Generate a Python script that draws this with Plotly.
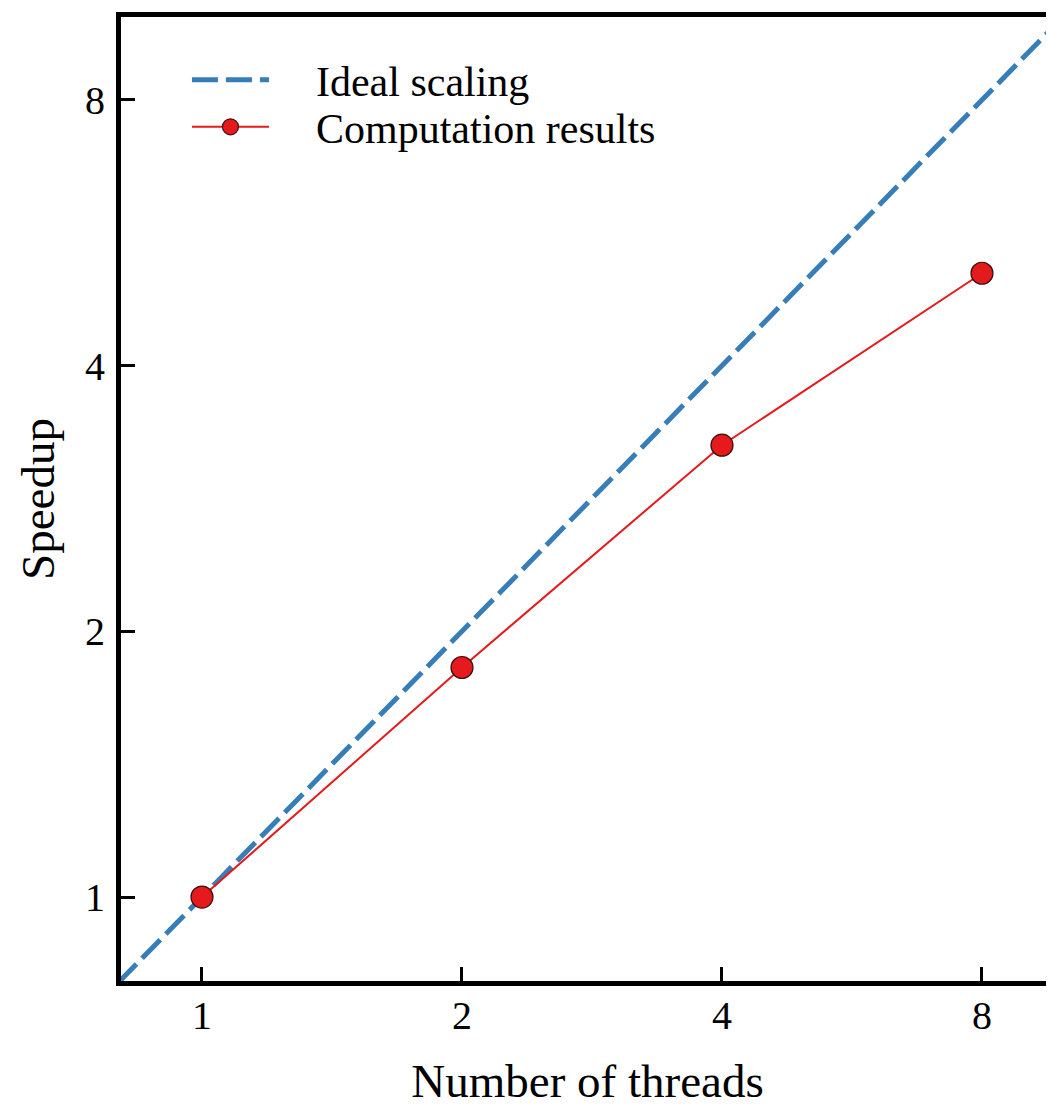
import math
import plotly.graph_objects as go

threads = [1, 2, 4, 8]
speedup = [1.0, 1.82, 3.25, 5.09]
ideal_x = [0.8, 10]
ideal_y = [0.8, 10]
tick_vals = [1, 2, 4, 8]
tick_text = ["1", "2", "4", "8"]

FONT = "Liberation Serif"
BLUE = "#377eb8"
RED = "#e41a1c"
PAD = "\u00a0" * 4

fig = go.Figure()
fig.add_trace(go.Scatter(
    x=ideal_x, y=ideal_y, mode="lines", name=PAD + "Ideal scaling",
    line=dict(color=BLUE, width=5, dash="26px,8px"), legend="legend",
))
fig.add_trace(go.Scatter(
    x=threads, y=speedup, mode="lines+markers", name=PAD + "Computation results",
    line=dict(color=RED, width=2),
    marker=dict(size=22, color=RED, line=dict(color="#3a1010", width=1.2)),
    legend="legend2",
))

L2 = math.log10(2)
xr = [L2 * -0.3115, L2 * 3.277]
yr = [L2 * -0.316, L2 * 3.312]

axis_common = dict(
    type="log", tickvals=tick_vals, ticktext=tick_text,
    showgrid=False, zeroline=False, showline=True, linecolor="black", linewidth=5,
    ticks="inside", ticklen=14, tickwidth=3, tickcolor="black",
    tickfont=dict(family=FONT, size=40, color="black"),
)

legend_common = dict(
    xanchor="left", yanchor="middle", bgcolor="rgba(0,0,0,0)",
    font=dict(family=FONT, size=42, color="black"), itemwidth=77,
)

fig.update_layout(
    width=1046, height=1099,
    margin=dict(l=113, r=0, t=9, b=126),
    paper_bgcolor="white", plot_bgcolor="white",
    font=dict(family=FONT, color="black"),
    showlegend=True,
    legend=dict(**legend_common, x=0.0707, y=0.9347),
    legend2=dict(**legend_common, x=0.0707, y=0.8859),
    xaxis=dict(
        **axis_common, range=xr, mirror=True,
        title=dict(text="Number of threads", font=dict(family=FONT, size=47, color="black"), standoff=37),
        ticklabelstandoff=-5,
    ),
    yaxis=dict(
        **axis_common, range=yr, mirror=False,
        title=dict(text="Speedup", font=dict(family=FONT, size=47, color="black"), standoff=17),
        ticklabelstandoff=3,
    ),
    yaxis2=dict(
        type="log", overlaying="y", side="right", anchor="x", matches="y", range=yr,
        tickvals=tick_vals, showticklabels=False, showgrid=False, zeroline=False,
        showline=False, ticks="inside", ticklen=4, tickwidth=3, tickcolor="black",
    ),
)

fig.write_html("out.html")
